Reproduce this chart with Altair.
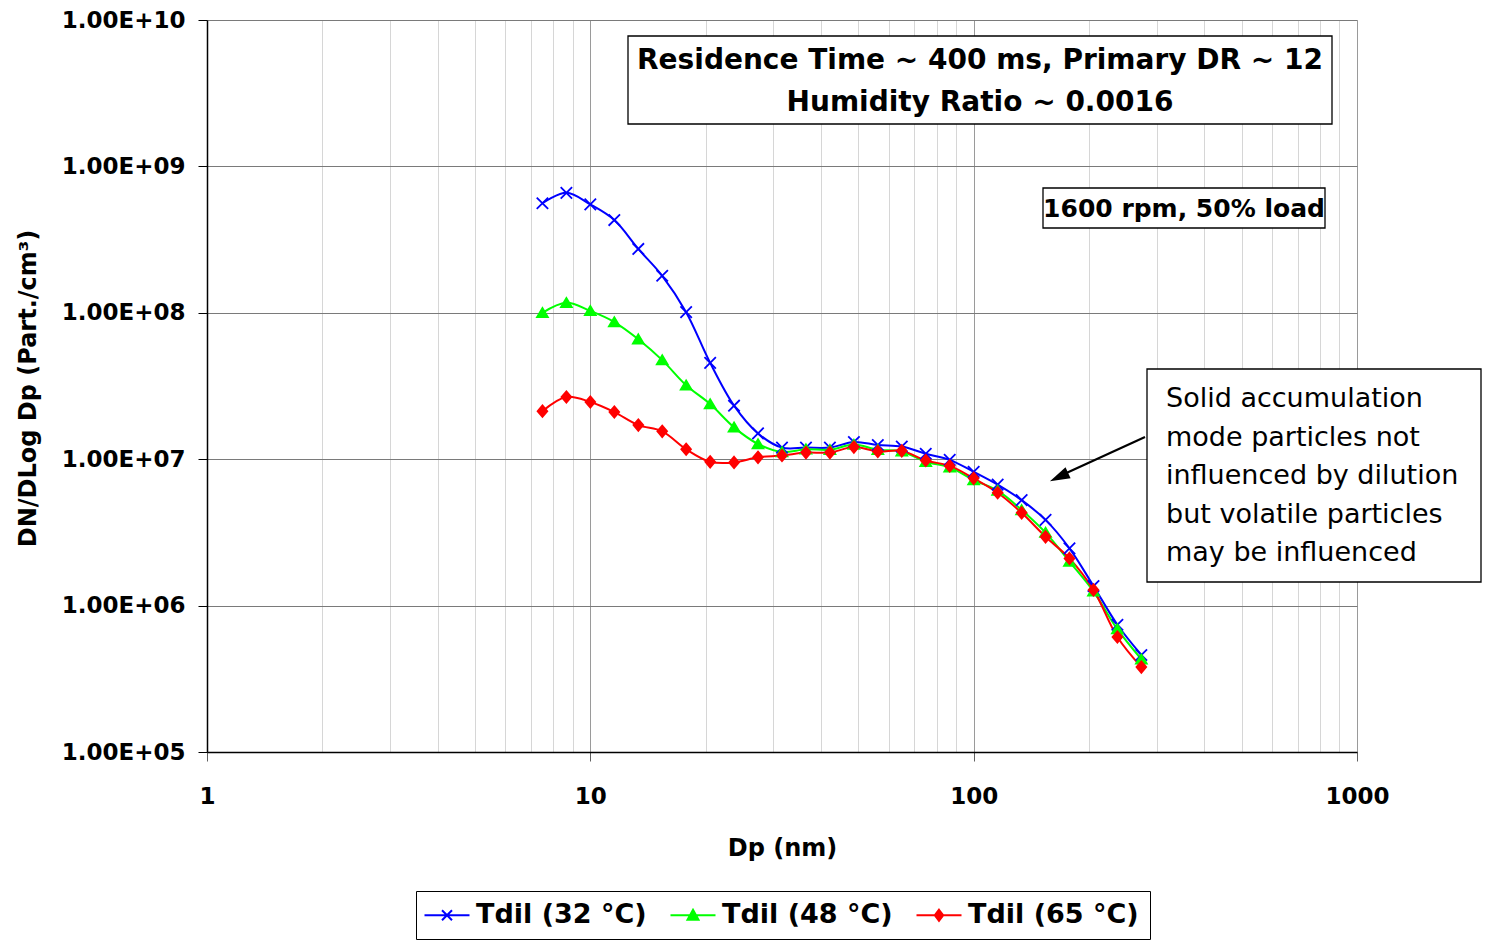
import altair as alt
import pandas as pd

# ---- data ----
dp_nm = [7.50, 8.66, 10.0, 11.55, 13.34, 15.40, 17.78, 20.54, 23.71, 27.38, 31.62,
         36.52, 42.17, 48.70, 56.23, 64.94, 74.99, 86.60, 100.0, 115.5, 133.4,
         154.0, 177.8, 205.4, 237.1, 273.8]
tdil_32 = [5.6e8, 6.6e8, 5.5e8, 4.3e8, 2.73e8, 1.79e8, 1.01e8, 4.55e7, 2.32e7, 1.50e7,
           1.20e7, 1.20e7, 1.20e7, 1.31e7, 1.25e7, 1.22e7, 1.09e7, 9.9e6, 8.2e6, 6.7e6,
           5.25e6, 3.85e6, 2.46e6, 1.36e6, 7.4e5, 4.6e5]
tdil_48 = [1.00e8, 1.17e8, 1.03e8, 8.65e7, 6.6e7, 4.75e7, 3.2e7, 2.38e7, 1.65e7, 1.27e7,
           1.12e7, 1.17e7, 1.16e7, 1.26e7, 1.16e7, 1.13e7, 9.6e6, 8.8e6, 7.2e6, 6.1e6,
           4.5e6, 3.15e6, 2.0e6, 1.25e6, 6.9e5, 4.3e5]
tdil_65 = [2.13e7, 2.66e7, 2.46e7, 2.10e7, 1.71e7, 1.55e7, 1.17e7, 9.6e6, 9.5e6, 1.03e7,
           1.06e7, 1.11e7, 1.11e7, 1.21e7, 1.13e7, 1.14e7, 9.8e6, 9.0e6, 7.4e6, 5.9e6,
           4.3e6, 2.95e6, 2.1e6, 1.28e6, 6.1e5, 3.8e5]
series_names = ["Tdil (32 °C)", "Tdil (48 °C)", "Tdil (65 °C)"]
series_colors = ["#0000FF", "#00FF00", "#FF0000"]
x_tick_values = [1, 2, 3, 4, 5, 6, 7, 8, 9, 10, 20, 30, 40, 50, 60, 70, 80, 90,
                 100, 200, 300, 400, 500, 600, 700, 800, 900, 1000]
y_tick_values = [1e5, 1e6, 1e7, 1e8, 1e9, 1e10]
x_title = "Dp (nm)"
y_title = "DN/DLog Dp (Part./cm³)"
box1_text = "Residence Time ~ 400 ms, Primary DR ~ 12\nHumidity Ratio ~ 0.0016"
box2_text = "1600 rpm, 50% load"
note_text = ("Solid accumulation\nmode particles not\ninfluenced by dilution\n"
             "but volatile particles\nmay be influenced")

rows = []
for name, vals in zip(series_names, [tdil_32, tdil_48, tdil_65]):
    for d, v in zip(dp_nm, vals):
        rows.append({"Dp": d, "value": v, "series": name})
df = pd.DataFrame(rows)

FONT = "DejaVu Sans"

marker_paths = ["M-1,-1L1,1M-1,1L1,-1", "M0,-0.85L0.95,0.75L-0.95,0.75Z", "M0,-1L0.85,0L0,1L-0.85,0Z"]
# legend glyphs: a line with the marker at its middle (unit = 10 px for size 400)
legend_paths = ["M-1.55,0H2.95M0.2,-0.5L1.2,0.5M0.2,0.5L1.2,-0.5",
                "M-1.55,0H2.95M0.7,-0.55L1.25,0.45L0.15,0.45Z",
                "M-1.55,0H2.95M0.7,-0.55L1.12,0L0.7,0.55L0.28,0Z"]

x_enc = alt.X(
    "Dp:Q",
    scale=alt.Scale(type="log", domain=[1, 1000], nice=False),
    axis=alt.Axis(
        values=x_tick_values,
        labelExpr="indexof([1,10,100,1000], datum.value) >= 0 ? format(datum.value, 'd') : ''",
        labelOverlap=False, labelFlush=False,
        grid=True,
        gridColor={"condition": {"test": "indexof([1,10,100,1000], datum.value) >= 0", "value": "#9a9a9a"},
                   "value": "#d6d6d6"},
        tickColor={"condition": {"test": "indexof([1,10,100,1000], datum.value) >= 0", "value": "#606060"},
                   "value": "transparent"},
        tickSize=9, domainColor="black", domainWidth=1.5,
        labelFont=FONT, labelFontSize=23, labelFontWeight="bold", labelColor="black",
        labelPadding=24,
        title=x_title, titleFont=FONT, titleFontSize=24, titleFontWeight="bold", titleColor="black",
        titleX=575, titleY=96, titleBaseline="middle", titleAlign="center",
    ),
)
y_enc = alt.Y(
    "value:Q",
    scale=alt.Scale(type="log", domain=[1e5, 1e10], nice=False),
    axis=alt.Axis(
        values=y_tick_values,
        labelExpr="'1.00E+' + format(round(log(datum.value) / LN10), '02d')",
        labelOverlap=False, labelFlush=False,
        grid=True, gridColor="#7a7a7a", gridWidth=1,
        tickSize=9, tickColor="black", domainColor="black", domainWidth=1.5,
        labelFont=FONT, labelFontSize=23, labelFontWeight="bold", labelColor="black",
        labelPadding=13,
        title=y_title, titleFont=FONT, titleFontSize=24, titleFontWeight="bold", titleColor="black",
        titleX=-179, titleY=368, titleAngle=270, titleBaseline="middle", titleAlign="center",
    ),
)

base = alt.Chart(df)

lines = base.mark_line(strokeWidth=2, interpolate="catmull-rom").encode(
    x=x_enc, y=y_enc,
    color=alt.Color("series:N", scale=alt.Scale(domain=series_names, range=series_colors), legend=None),
    detail="series:N",
)

points = base.mark_point(filled=True, size=130, strokeWidth=1.8, opacity=1).encode(
    x=x_enc, y=y_enc,
    fill=alt.Fill("series:N", scale=alt.Scale(domain=series_names, range=series_colors), legend=None),
    stroke=alt.Stroke("series:N", scale=alt.Scale(domain=series_names, range=series_colors), legend=None),
    shape=alt.Shape("series:N", scale=alt.Scale(domain=series_names, range=marker_paths), legend=None),
)

leg = alt.Legend(
    title=None, orient="none", legendX=209, legendY=871, direction="horizontal",
    symbolSize=400, symbolStrokeWidth=2,
    labelFont=FONT, labelFontSize=27, labelFontWeight="bold", labelColor="black",
    labelOffset=22.5, columnPadding=19, padding=10.5, labelLimit=500,
    strokeColor="black", fillColor="white",
)
legend_layer = base.transform_filter("false").mark_point(filled=True, size=400, strokeWidth=2, opacity=1).encode(
    x=x_enc, y=y_enc,
    fill=alt.Fill("series:N", scale=alt.Scale(domain=series_names, range=series_colors), legend=leg),
    stroke=alt.Stroke("series:N", scale=alt.Scale(domain=series_names, range=series_colors), legend=leg),
    shape=alt.Shape("series:N", scale=alt.Scale(domain=series_names, range=legend_paths), legend=leg),
)

ann = alt.Chart(pd.DataFrame({"t1": [box1_text], "t2": [box2_text], "t3": [note_text]}))

box1 = ann.mark_rect(fill="white", stroke="black", strokeWidth=1.3).encode(
    x=alt.value(421), x2=alt.value(1125), y=alt.value(16), y2=alt.value(104))
text1 = ann.mark_text(font=FONT, fontSize=28, fontWeight="bold", color="black",
                      align="center", baseline="middle", lineBreak="\n", lineHeight=42).encode(
    x=alt.value(773), y=alt.value(41), text="t1:N")

box2 = ann.mark_rect(fill="white", stroke="black", strokeWidth=1.3).encode(
    x=alt.value(836), x2=alt.value(1118), y=alt.value(168), y2=alt.value(208))
text2 = ann.mark_text(font=FONT, fontSize=25, fontWeight="bold", color="black",
                      align="center", baseline="middle").encode(
    x=alt.value(977), y=alt.value(189), text="t2:N")

box3 = ann.mark_rect(fill="white", stroke="black", strokeWidth=1.3).encode(
    x=alt.value(940), x2=alt.value(1274), y=alt.value(349), y2=alt.value(562))
text3 = ann.mark_text(font=FONT, fontSize=27, color="black",
                      align="left", baseline="middle", lineBreak="\n", lineHeight=38.5).encode(
    x=alt.value(959), y=alt.value(379), text="t3:N")

arrow_line = ann.mark_rule(color="black", strokeWidth=2.2).encode(
    x=alt.value(938), y=alt.value(417), x2=alt.value(855), y2=alt.value(455))
arrow_head = ann.mark_point(shape="M0,-1L0.6,1L-0.6,1Z", filled=True, size=400, angle=245,
                            color="black", opacity=1).encode(
    x=alt.value(852), y=alt.value(457))

chart = alt.layer(
    lines, points, legend_layer, box1, text1, box2, text2, box3, text3, arrow_line, arrow_head
).resolve_scale(
    fill="independent", stroke="independent", shape="independent"
).properties(
    width=1150, height=732,
    autosize=alt.AutoSizeParams(type="none"),
    padding={"left": 207, "top": 20, "right": 130, "bottom": 189},
).configure_view(stroke=None).configure(background="white")

chart.save("out.html", embed_options={"renderer": "svg", "actions": False})
